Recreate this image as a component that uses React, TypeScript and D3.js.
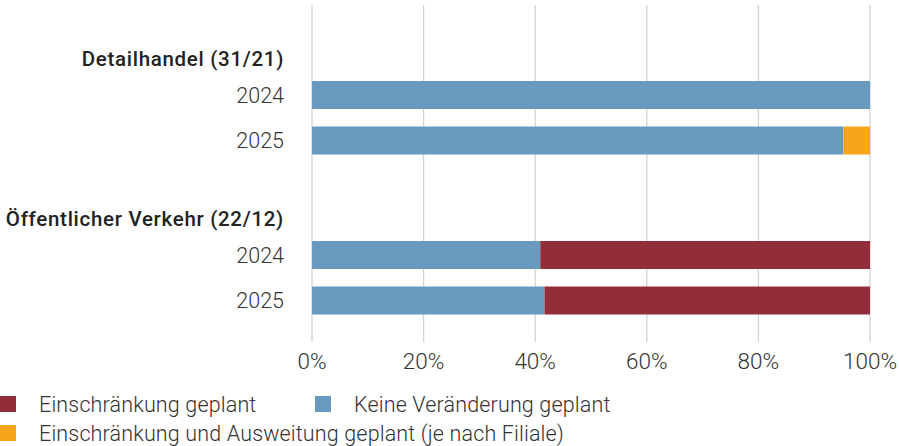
import React from "react";
import * as d3 from "d3";

const groups = ["Detailhandel (31/21)", "Öffentlicher Verkehr (22/12)"];
const years = ["2024", "2025"];
const seriesNames = [
  "Keine Veränderung geplant",
  "Einschränkung geplant",
  "Einschränkung und Ausweitung geplant (je nach Filiale)",
];
const seriesColors = ["#6899BF", "#922D3A", "#F6A51D"];
// values per row: [Keine, Einschränkung, Einschränkung+Ausweitung] in %
const keineValues = [100, 95.24, 40.91, 41.67];
const einschraenkungValues = [0, 0, 59.09, 58.33];
const beidesValues = [0, 4.76, 0, 0];
const xTicks = [0, 20, 40, 60, 80, 100];
const legendOrder = [1, 0, 2];

const W = 899;
const H = 446;
const FONT = "Roboto, 'Liberation Sans', Arial, sans-serif";

export default function App() {
  const x = d3.scaleLinear().domain([0, 100]).range([312, 870]);
  const groupOffset = 160;
  const rowStep = 45.5;
  const firstRow = 95;
  const barH = 28;

  const rows = groups.flatMap((g, gi) =>
    years.map((yr, ri) => {
      const idx = gi * years.length + ri;
      return {
        group: gi,
        year: yr,
        cy: firstRow + gi * groupOffset + ri * rowStep,
        vals: [keineValues[idx], einschraenkungValues[idx], beidesValues[idx]],
      };
    })
  );

  const stack = d3
    .stack<any>()
    .keys(["0", "1", "2"])
    .value((d: any, k: string) => d.vals[+k]);
  const stacked = stack(rows as any);

  return (
    <svg
      width={W}
      height={H}
      style={{ position: "absolute", left: 0, top: 0, fontFamily: FONT }}
    >
      {xTicks.map((t) => (
        <g key={t}>
          <line
            x1={x(t)}
            x2={x(t)}
            y1={5}
            y2={342}
            stroke="#D3D3D3"
            strokeWidth={1.3}
          />
          <text
            x={x(t)}
            y={361}
            dy="0.35em"
            textAnchor="middle"
            fontSize={22.5}
            fontWeight={300}
            fill="#333"
          >
            {t}%
          </text>
        </g>
      ))}

      {stacked.map((layer, li) =>
        layer.map((seg, ri) => {
          const r = rows[ri];
          const w = x(seg[1]) - x(seg[0]);
          if (w <= 0) return null;
          return (
            <rect
              key={`${li}-${ri}`}
              x={x(seg[0])}
              y={r.cy - barH / 2}
              width={w}
              height={barH}
              fill={seriesColors[li]}
            />
          );
        })
      )}

      {groups.map((g, gi) => (
        <text
          key={g}
          x={284}
          y={firstRow + gi * groupOffset - 36}
          dy="0.35em"
          textAnchor="end"
          fontSize={20.5}
          fontWeight={500}
          letterSpacing={0.7}
          fill="#222"
        >
          {g}
        </text>
      ))}
      {rows.map((r, i) => (
        <text
          key={i}
          x={284}
          y={r.cy}
          dy="0.35em"
          textAnchor="end"
          fontSize={21.5}
          fontWeight={300}
          fill="#333"
        >
          {r.year}
        </text>
      ))}

      {legendOrder.map((si, i) => {
        const lx = i === 1 ? 315 : 0;
        const ly = i === 2 ? 433 : 404;
        return (
          <g key={si}>
            <rect x={lx} y={ly - 8} width={16} height={16} fill={seriesColors[si]} />
            <text
              x={lx + 39}
              y={ly}
              dy="0.35em"
              fontSize={21.5}
              fontWeight={300}
              letterSpacing={0.15}
              fill="#333"
            >
              {seriesNames[si]}
            </text>
          </g>
        );
      })}
    </svg>
  );
}
